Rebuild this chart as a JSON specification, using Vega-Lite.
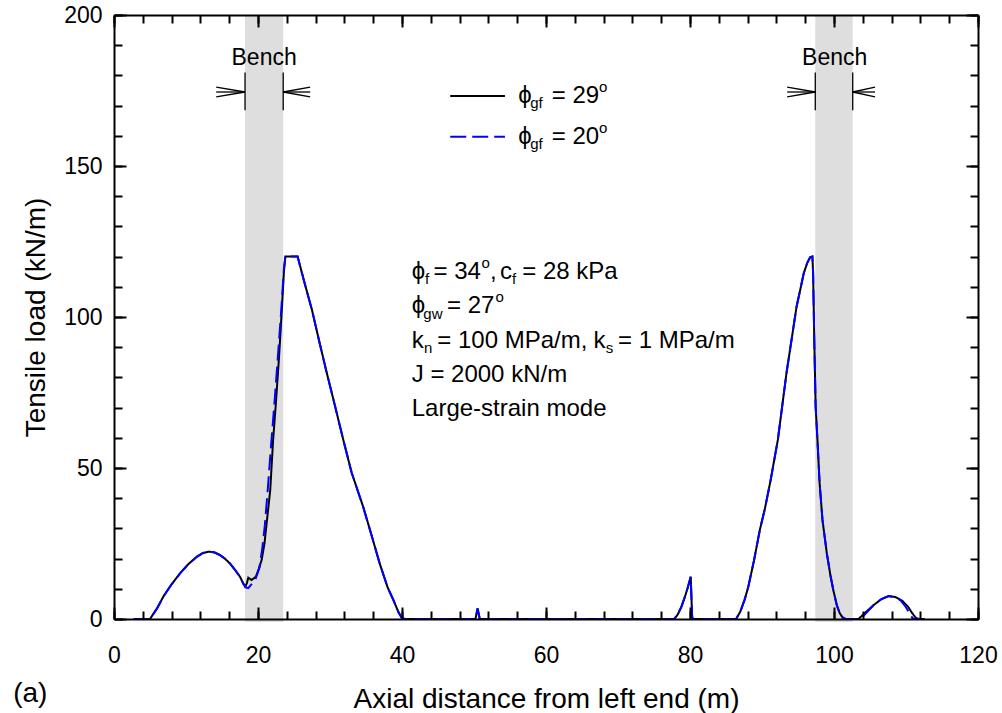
{
  "$schema": "https://vega.github.io/schema/vega-lite/v6.json",
  "width": 864,
  "height": 604,
  "autosize": "none",
  "padding": {"left": 114, "top": 15, "right": 24, "bottom": 94},
  "background": "white",
  "config": {
    "view": {"stroke": null},
    "font": "Liberation Sans",
    "axis": {
      "domainColor": "#000000", "domainWidth": 2, "tickColor": "#000000", "tickWidth": 2, "tickOpacity": 1,
      "labelColor": "#000000", "labelFont": "Liberation Sans", "labelFontSize": 23,
      "titleColor": "#000000", "titleFont": "Liberation Sans", "titleFontSize": 28, "titleFontWeight": "normal",
      "grid": false, "labelFlush": false, "labelOverlap": false
    }
  },
  "datasets": {
    "bands": [{"x": 18.2, "x2": 23.5}, {"x": 97.4, "x2": 102.6}],
    "arrows": [
      {"x": 18.2, "x2": 18.2, "y": 168.5, "y2": 181},
      {"x": 23.5, "x2": 23.5, "y": 168.5, "y2": 181},
      {"x": 14.2, "x2": 18.2, "y": 174.5, "y2": 174.5},
      {"x": 14.2, "x2": 18.2, "y": 176.1, "y2": 174.5},
      {"x": 14.2, "x2": 18.2, "y": 172.9, "y2": 174.5},
      {"x": 23.5, "x2": 27.25, "y": 174.5, "y2": 174.5},
      {"x": 23.5, "x2": 27.25, "y": 174.5, "y2": 176.1},
      {"x": 23.5, "x2": 27.25, "y": 174.5, "y2": 172.9},
      {"x": 97.4, "x2": 97.4, "y": 168.5, "y2": 181},
      {"x": 102.6, "x2": 102.6, "y": 168.5, "y2": 181},
      {"x": 93.5, "x2": 97.4, "y": 174.5, "y2": 174.5},
      {"x": 93.5, "x2": 97.4, "y": 176.1, "y2": 174.5},
      {"x": 93.5, "x2": 97.4, "y": 172.9, "y2": 174.5},
      {"x": 102.6, "x2": 105.7, "y": 174.5, "y2": 174.5},
      {"x": 102.6, "x2": 105.7, "y": 174.5, "y2": 176.1},
      {"x": 102.6, "x2": 105.7, "y": 174.5, "y2": 172.9}
    ],
    "curves": [
      {"s": "1", "x": 5.0, "y": 0}, {"s": "1", "x": 6.0, "y": 3.6}, {"s": "1", "x": 6.85, "y": 7.4}, {"s": "1", "x": 8.0, "y": 11.5},
      {"s": "1", "x": 9.17, "y": 15.1}, {"s": "1", "x": 10.3, "y": 18.1}, {"s": "1", "x": 11.5, "y": 20.6}, {"s": "1", "x": 12.3, "y": 21.8},
      {"s": "1", "x": 13.1, "y": 22.3}, {"s": "1", "x": 13.9, "y": 22.1}, {"s": "1", "x": 14.7, "y": 21.2}, {"s": "1", "x": 15.4, "y": 20.0},
      {"s": "1", "x": 16.1, "y": 18.4}, {"s": "1", "x": 16.8, "y": 16.3}, {"s": "1", "x": 17.5, "y": 14.0}, {"s": "1", "x": 17.9, "y": 12.0},
      {"s": "1", "x": 18.2, "y": 10.7}, {"s": "1", "x": 18.45, "y": 11.8}, {"s": "1", "x": 18.65, "y": 13.7}, {"s": "1", "x": 19.1, "y": 12.9},
      {"s": "1", "x": 19.7, "y": 14.0}, {"s": "1", "x": 20.1, "y": 16.5}, {"s": "1", "x": 20.5, "y": 19.5}, {"s": "1", "x": 20.9, "y": 25},
      {"s": "1", "x": 21.2, "y": 31.7}, {"s": "1", "x": 21.7, "y": 42.7}, {"s": "1", "x": 22.1, "y": 59.3}, {"s": "1", "x": 22.5, "y": 72},
      {"s": "1", "x": 22.9, "y": 86}, {"s": "1", "x": 23.3, "y": 102}, {"s": "1", "x": 23.6, "y": 115}, {"s": "1", "x": 23.8, "y": 120},
      {"s": "1", "x": 25.5, "y": 120}, {"s": "1", "x": 26.5, "y": 111}, {"s": "1", "x": 27.5, "y": 102.3}, {"s": "1", "x": 28.5, "y": 92},
      {"s": "1", "x": 29.5, "y": 82}, {"s": "1", "x": 30.7, "y": 70.5}, {"s": "1", "x": 31.85, "y": 59.3}, {"s": "1", "x": 33.0, "y": 48.5},
      {"s": "1", "x": 34.6, "y": 37.2}, {"s": "1", "x": 35.8, "y": 27.5}, {"s": "1", "x": 36.9, "y": 18.4}, {"s": "1", "x": 38.0, "y": 10.5},
      {"s": "1", "x": 38.8, "y": 6.3}, {"s": "1", "x": 39.5, "y": 2.3}, {"s": "1", "x": 40.0, "y": 0.2}, {"s": "1", "x": 40.5, "y": 0},
      {"s": "1", "x": 50.2, "y": 0}, {"s": "1", "x": 50.5, "y": 3.5}, {"s": "1", "x": 50.8, "y": 0}, {"s": "1", "x": 77.8, "y": 0},
      {"s": "1", "x": 78.3, "y": 1.5}, {"s": "1", "x": 78.8, "y": 4}, {"s": "1", "x": 79.3, "y": 7.4}, {"s": "1", "x": 79.7, "y": 10.5},
      {"s": "1", "x": 80.1, "y": 14.0}, {"s": "1", "x": 80.3, "y": 0.5}, {"s": "1", "x": 80.5, "y": 0}, {"s": "1", "x": 86.4, "y": 0},
      {"s": "1", "x": 87.0, "y": 2.5}, {"s": "1", "x": 87.6, "y": 6.5}, {"s": "1", "x": 88.1, "y": 10.7}, {"s": "1", "x": 88.9, "y": 19.5},
      {"s": "1", "x": 89.7, "y": 29.5}, {"s": "1", "x": 90.4, "y": 36.5}, {"s": "1", "x": 91.2, "y": 46}, {"s": "1", "x": 92.2, "y": 59.3},
      {"s": "1", "x": 93.4, "y": 81.4}, {"s": "1", "x": 94.8, "y": 103.4}, {"s": "1", "x": 95.4, "y": 110}, {"s": "1", "x": 95.8, "y": 114.5},
      {"s": "1", "x": 96.3, "y": 118}, {"s": "1", "x": 96.7, "y": 119.8}, {"s": "1", "x": 97.0, "y": 120}, {"s": "1", "x": 97.1, "y": 114.5},
      {"s": "1", "x": 97.26, "y": 92.4}, {"s": "1", "x": 97.45, "y": 70.3}, {"s": "1", "x": 97.7, "y": 59.3}, {"s": "1", "x": 98.0, "y": 45},
      {"s": "1", "x": 98.4, "y": 32.8}, {"s": "1", "x": 99.0, "y": 21.8}, {"s": "1", "x": 99.5, "y": 14.5}, {"s": "1", "x": 99.9, "y": 9.6},
      {"s": "1", "x": 100.4, "y": 4.5}, {"s": "1", "x": 100.8, "y": 1.9}, {"s": "1", "x": 101.2, "y": 0.5}, {"s": "1", "x": 101.6, "y": 0},
      {"s": "1", "x": 103.4, "y": 0}, {"s": "1", "x": 104.2, "y": 1.8}, {"s": "1", "x": 105.5, "y": 4.6}, {"s": "1", "x": 106.6, "y": 6.6},
      {"s": "1", "x": 107.6, "y": 7.6}, {"s": "1", "x": 108.5, "y": 7.3}, {"s": "1", "x": 109.5, "y": 6.0}, {"s": "1", "x": 110.3, "y": 4.0},
      {"s": "1", "x": 110.9, "y": 1.8}, {"s": "1", "x": 111.4, "y": 0.3}, {"s": "1", "x": 111.8, "y": 0}, {"s": "1", "x": 112.6, "y": 0},

      {"s": "2", "x": 2.7, "y": 0}, {"s": "2", "x": 5.0, "y": 0}, {"s": "2", "x": 6.0, "y": 3.6}, {"s": "2", "x": 6.85, "y": 7.4}, {"s": "2", "x": 8.0, "y": 11.5},
      {"s": "2", "x": 9.17, "y": 15.1}, {"s": "2", "x": 10.3, "y": 18.1}, {"s": "2", "x": 11.5, "y": 20.6}, {"s": "2", "x": 12.3, "y": 21.8},
      {"s": "2", "x": 13.1, "y": 22.3}, {"s": "2", "x": 13.9, "y": 22.1}, {"s": "2", "x": 14.7, "y": 21.2}, {"s": "2", "x": 15.4, "y": 20.0},
      {"s": "2", "x": 16.1, "y": 18.4}, {"s": "2", "x": 16.8, "y": 16.3}, {"s": "2", "x": 17.5, "y": 14.0}, {"s": "2", "x": 18.0, "y": 11.5},
      {"s": "2", "x": 18.4, "y": 10.4}, {"s": "2", "x": 18.65, "y": 10.2}, {"s": "2", "x": 19.0, "y": 11.2}, {"s": "2", "x": 19.6, "y": 12.9},
      {"s": "2", "x": 20.2, "y": 17}, {"s": "2", "x": 20.6, "y": 23.5}, {"s": "2", "x": 20.95, "y": 31}, {"s": "2", "x": 21.35, "y": 42.7},
      {"s": "2", "x": 21.8, "y": 57}, {"s": "2", "x": 22.3, "y": 72}, {"s": "2", "x": 22.8, "y": 88}, {"s": "2", "x": 23.25, "y": 103},
      {"s": "2", "x": 23.6, "y": 116}, {"s": "2", "x": 23.8, "y": 120},
      {"s": "2", "x": 25.5, "y": 120}, {"s": "2", "x": 26.5, "y": 111}, {"s": "2", "x": 27.5, "y": 102.3}, {"s": "2", "x": 28.5, "y": 92},
      {"s": "2", "x": 29.5, "y": 82}, {"s": "2", "x": 30.7, "y": 70.5}, {"s": "2", "x": 31.85, "y": 59.3}, {"s": "2", "x": 33.0, "y": 48.5},
      {"s": "2", "x": 34.6, "y": 37.2}, {"s": "2", "x": 35.8, "y": 27.5}, {"s": "2", "x": 36.9, "y": 18.4}, {"s": "2", "x": 38.0, "y": 10.5},
      {"s": "2", "x": 38.8, "y": 6.3}, {"s": "2", "x": 39.5, "y": 2.3}, {"s": "2", "x": 40.0, "y": 0.2}, {"s": "2", "x": 40.5, "y": 0},
      {"s": "2", "x": 50.2, "y": 0}, {"s": "2", "x": 50.5, "y": 3.5}, {"s": "2", "x": 50.8, "y": 0}, {"s": "2", "x": 77.8, "y": 0},
      {"s": "2", "x": 78.3, "y": 1.5}, {"s": "2", "x": 78.8, "y": 4}, {"s": "2", "x": 79.3, "y": 7.4}, {"s": "2", "x": 79.7, "y": 10.5},
      {"s": "2", "x": 80.1, "y": 14.0}, {"s": "2", "x": 80.3, "y": 0.5}, {"s": "2", "x": 80.5, "y": 0}, {"s": "2", "x": 86.4, "y": 0},
      {"s": "2", "x": 87.0, "y": 2.5}, {"s": "2", "x": 87.6, "y": 6.5}, {"s": "2", "x": 88.1, "y": 10.7}, {"s": "2", "x": 88.9, "y": 19.5},
      {"s": "2", "x": 89.7, "y": 29.5}, {"s": "2", "x": 90.4, "y": 36.5}, {"s": "2", "x": 91.2, "y": 46}, {"s": "2", "x": 92.2, "y": 59.3},
      {"s": "2", "x": 93.4, "y": 81.4}, {"s": "2", "x": 94.8, "y": 103.4}, {"s": "2", "x": 95.4, "y": 110}, {"s": "2", "x": 95.8, "y": 114.5},
      {"s": "2", "x": 96.3, "y": 118}, {"s": "2", "x": 96.7, "y": 119.8}, {"s": "2", "x": 97.0, "y": 120}, {"s": "2", "x": 97.1, "y": 114.5},
      {"s": "2", "x": 97.26, "y": 92.4}, {"s": "2", "x": 97.45, "y": 70.3}, {"s": "2", "x": 97.7, "y": 59.3}, {"s": "2", "x": 98.0, "y": 45},
      {"s": "2", "x": 98.4, "y": 32.8}, {"s": "2", "x": 99.0, "y": 21.8}, {"s": "2", "x": 99.5, "y": 14.5}, {"s": "2", "x": 99.9, "y": 9.6},
      {"s": "2", "x": 100.4, "y": 4.5}, {"s": "2", "x": 100.8, "y": 1.9}, {"s": "2", "x": 101.2, "y": 0.5}, {"s": "2", "x": 101.6, "y": 0},
      {"s": "2", "x": 103.6, "y": 0}, {"s": "2", "x": 104.4, "y": 1.8}, {"s": "2", "x": 105.5, "y": 4.6}, {"s": "2", "x": 106.6, "y": 6.6},
      {"s": "2", "x": 107.6, "y": 7.6}, {"s": "2", "x": 108.5, "y": 7.1}, {"s": "2", "x": 109.2, "y": 6.3}, {"s": "2", "x": 110.0, "y": 3.9},
      {"s": "2", "x": 110.5, "y": 1.8}, {"s": "2", "x": 110.9, "y": 0.3}, {"s": "2", "x": 111.2, "y": 0}, {"s": "2", "x": 111.9, "y": 0}
    ],
    "legendLines": [
      {"s": "1", "x": 46.7, "x2": 54.3, "y": 173.2},
      {"s": "2", "x": 46.7, "x2": 54.3, "y": 159.7}
    ],
    "mainText": [
      {"x": 56.15, "y": 170.8, "t": "ϕ"}, {"x": 60.8, "y": 170.8, "t": "= 29"},
      {"x": 56.15, "y": 157.3, "t": "ϕ"}, {"x": 60.8, "y": 157.3, "t": "= 20"},
      {"x": 41.35, "y": 112.5, "t": "ϕ"}, {"x": 44.38, "y": 112.5, "t": "= 34"}, {"x": 52.22, "y": 112.5, "t": ","},
      {"x": 53.61, "y": 112.5, "t": "c"}, {"x": 56.7, "y": 112.5, "t": "= 28 kPa"},
      {"x": 41.35, "y": 101.2, "t": "ϕ"}, {"x": 46.25, "y": 101.2, "t": "= 27"},
      {"x": 41.35, "y": 89.9, "t": "k"}, {"x": 44.9, "y": 89.9, "t": "= 100 MPa/m,"}, {"x": 66.6, "y": 89.9, "t": "k"},
      {"x": 70.0, "y": 89.9, "t": "= 1 MPa/m"},
      {"x": 41.35, "y": 78.6, "t": "J = 2000 kN/m"},
      {"x": 41.35, "y": 67.3, "t": "Large-strain mode"}
    ],
    "smallText": [
      {"x": 57.8, "y": 169.1, "t": "gf"}, {"x": 67.35, "y": 174.5, "t": "o"},
      {"x": 57.8, "y": 155.6, "t": "gf"}, {"x": 67.35, "y": 161.0, "t": "o"},
      {"x": 43.19, "y": 110.8, "t": "f"}, {"x": 51.04, "y": 116.2, "t": "o"}, {"x": 55.28, "y": 110.8, "t": "f"},
      {"x": 42.96, "y": 99.5, "t": "gw"}, {"x": 53.0, "y": 104.9, "t": "o"},
      {"x": 43.06, "y": 88.2, "t": "n"}, {"x": 68.3, "y": 88.2, "t": "s"}
    ],
    "bench": [{"x": 20.85, "y": 183.4, "t": "Bench"}, {"x": 100.1, "y": 183.4, "t": "Bench"}],
    "panel": [{"x": -14.0, "y": -27.4, "t": "(a)"}]
  },
  "layer": [
    {
      "data": {"name": "bands"},
      "mark": {"type": "rect", "color": "#dedede"},
      "encoding": {
        "x": {"field": "x", "type": "quantitative", "scale": {"domain": [0, 120], "nice": false, "zero": false}, "axis": null},
        "x2": {"field": "x2"},
        "y": {"datum": -1, "type": "quantitative", "scale": {"domain": [0, 200], "nice": false, "zero": false}, "axis": null},
        "y2": {"datum": 200}
      }
    },
    {
      "data": {"name": "arrows"},
      "mark": {"type": "rule", "color": "black", "strokeWidth": 1.3},
      "encoding": {
        "x": {"field": "x", "type": "quantitative", "scale": {"domain": [0, 120], "nice": false, "zero": false},
              "axis": {"orient": "top", "offset": -604, "values": [0, 20, 40, 60, 80, 100, 120], "ticks": true, "tickSize": 12, "labels": false, "domain": false, "title": null, "zindex": 2}},
        "x2": {"field": "x2"},
        "y": {"field": "y", "type": "quantitative", "scale": {"domain": [0, 200], "nice": false, "zero": false},
              "axis": {"orient": "right", "offset": -864, "values": [0, 50, 100, 150, 200], "ticks": true, "tickSize": 12, "labels": false, "domain": false, "title": null, "zindex": 2}},
        "y2": {"field": "y2"}
      }
    },
    {
      "data": {"name": "curves"},
      "mark": {"type": "line", "strokeWidth": 2},
      "encoding": {
        "x": {"field": "x", "type": "quantitative", "scale": {"domain": [0, 120], "nice": false, "zero": false},
              "axis": {"orient": "bottom", "values": [0, 20, 40, 60, 80, 100, 120], "ticks": false, "domain": true, "labelPadding": 36, "labelBaseline": "middle",
                       "title": "Axial distance from left end (m)", "titlePadding": 18, "zindex": 2}},
        "y": {"field": "y", "type": "quantitative", "scale": {"domain": [0, 200], "nice": false, "zero": false},
              "axis": {"orient": "left", "values": [0, 50, 100, 150, 200], "ticks": false, "domain": true, "labelPadding": 12,
                       "title": "Tensile load (kN/m)", "titlePadding": 13, "zindex": 2}},
        "color": {"field": "s", "type": "nominal", "scale": {"domain": ["1", "2"], "range": ["black", "#0000ff"]}, "legend": null},
        "strokeDash": {"field": "s", "type": "nominal", "scale": {"domain": ["1", "2"], "range": [[1, 0], [16, 6]]}, "legend": null}
      }
    },
    {
      "data": {"name": "legendLines"},
      "mark": {"type": "rule", "strokeWidth": 2},
      "encoding": {
        "x": {"field": "x", "type": "quantitative", "scale": {"domain": [0, 120], "nice": false, "zero": false},
              "axis": {"orient": "top", "offset": -604, "values": [0,4,8,12,16,20,24,28,32,36,40,44,48,52,56,60,64,68,72,76,80,84,88,92,96,100,104,108,112,116,120], "ticks": true, "tickSize": 8, "labels": false, "domain": false, "title": null, "zindex": 2}},
        "x2": {"field": "x2"},
        "y": {"field": "y", "type": "quantitative", "scale": {"domain": [0, 200], "nice": false, "zero": false},
              "axis": {"orient": "right", "offset": -864, "values": [0,10,20,30,40,50,60,70,80,90,100,110,120,130,140,150,160,170,180,190,200], "ticks": true, "tickSize": 8, "labels": false, "domain": false, "title": null, "zindex": 2}},
        "color": {"field": "s", "type": "nominal", "legend": null},
        "strokeDash": {"field": "s", "type": "nominal", "legend": null}
      }
    },
    {
      "data": {"name": "mainText"},
      "mark": {"type": "text", "fontSize": 24, "align": "left", "baseline": "alphabetic", "color": "black", "font": "Liberation Sans"},
      "encoding": {
        "x": {"field": "x", "type": "quantitative", "scale": {"domain": [0, 120], "nice": false, "zero": false},
              "axis": {"orient": "bottom", "offset": -604, "values": [0, 20, 40, 60, 80, 100, 120], "ticks": true, "tickSize": 12, "labels": false, "domain": true, "title": null, "zindex": 2}},
        "y": {"field": "y", "type": "quantitative", "scale": {"domain": [0, 200], "nice": false, "zero": false},
              "axis": {"orient": "left", "offset": -864, "values": [0, 50, 100, 150, 200], "ticks": true, "tickSize": 12, "labels": false, "domain": true, "title": null, "zindex": 2}},
        "text": {"field": "t"}
      }
    },
    {
      "data": {"name": "smallText"},
      "mark": {"type": "text", "fontSize": 15, "align": "left", "baseline": "alphabetic", "color": "black", "font": "Liberation Sans"},
      "encoding": {
        "x": {"field": "x", "type": "quantitative", "scale": {"domain": [0, 120], "nice": false, "zero": false},
              "axis": {"orient": "bottom", "offset": -604, "values": [0,4,8,12,16,20,24,28,32,36,40,44,48,52,56,60,64,68,72,76,80,84,88,92,96,100,104,108,112,116,120], "ticks": true, "tickSize": 8, "labels": false, "domain": false, "title": null, "zindex": 2}},
        "y": {"field": "y", "type": "quantitative", "scale": {"domain": [0, 200], "nice": false, "zero": false},
              "axis": {"orient": "left", "offset": -864, "values": [0,10,20,30,40,50,60,70,80,90,100,110,120,130,140,150,160,170,180,190,200], "ticks": true, "tickSize": 8, "labels": false, "domain": false, "title": null, "zindex": 2}},
        "text": {"field": "t"}
      }
    },
    {
      "data": {"name": "bench"},
      "mark": {"type": "text", "fontSize": 23, "align": "center", "baseline": "alphabetic", "color": "black", "font": "Liberation Sans"},
      "encoding": {
        "x": {"field": "x", "type": "quantitative", "axis": null},
        "y": {"field": "y", "type": "quantitative", "axis": null},
        "text": {"field": "t"}
      }
    },
    {
      "data": {"name": "panel"},
      "mark": {"type": "text", "fontSize": 28, "align": "left", "baseline": "alphabetic", "color": "black", "font": "Liberation Sans"},
      "encoding": {
        "x": {"field": "x", "type": "quantitative", "axis": null},
        "y": {"field": "y", "type": "quantitative", "axis": null},
        "text": {"field": "t"}
      }
    }
  ],
  "resolve": {"axis": {"x": "independent", "y": "independent"}}
}
